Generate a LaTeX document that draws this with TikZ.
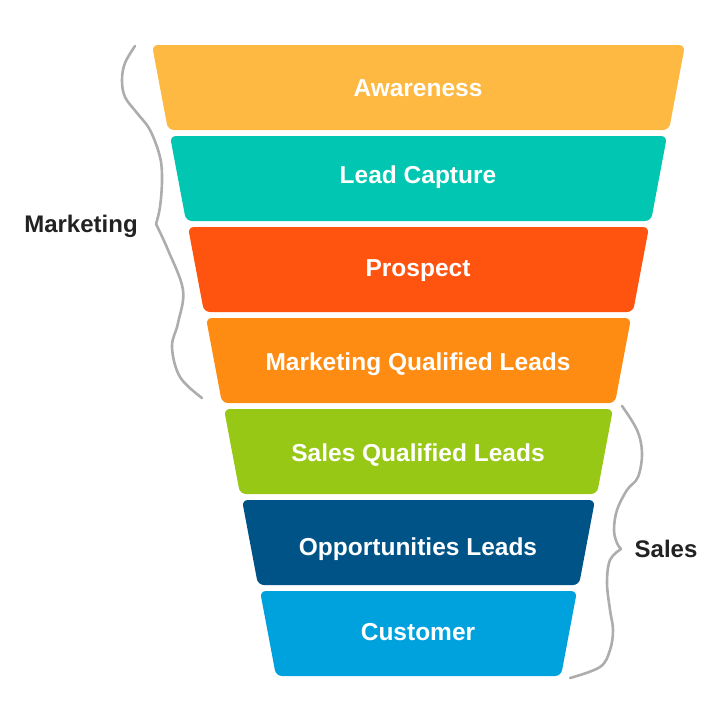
\documentclass[tikz,border=0pt]{standalone}
\usepackage{fontspec}
\setmainfont{Liberation Sans}

\definecolor{awarecol}{HTML}{FDB942}
\definecolor{leadcol}{HTML}{00C6B2}
\definecolor{prospcol}{HTML}{FF5310}
\definecolor{mqlcol}{HTML}{FF8C12}
\definecolor{sqlcol}{HTML}{96C815}
\definecolor{oppcol}{HTML}{005387}
\definecolor{custcol}{HTML}{00A2DD}
\definecolor{bracecol}{HTML}{ADADAD}
\definecolor{labelcol}{HTML}{222222}

\tikzset{
  bandtext/.style={text=white, anchor=base, font=\bfseries\fontsize{24.5}{28}\selectfont},
  sidelabel/.style={text=labelcol, anchor=base, font=\bfseries\fontsize{24}{28}\selectfont},
  bracecurve/.style={bracecol, line width=2.6pt, line cap=round}
}

\begin{document}
\begin{tikzpicture}[x=1pt, y=-1pt]
    \useasboundingbox (0,0) rectangle (720,720);

    % Funnel bands, one per stage
    \foreach \col/\ty/\txt [count=\i from 0] in {awarecol/88/Awareness, leadcol/175/Lead Capture,
        prospcol/268/Prospect, mqlcol/362/Marketing Qualified Leads, sqlcol/453/Sales Qualified Leads,
        oppcol/547/Opportunities Leads, custcol/632/Customer}{
        \fill[\col, rounded corners=6pt] ({152+18*\i},{45+91*\i}) -- ({685-18*\i},{45+91*\i})
            -- ({669-18*\i},{130+91*\i}) -- ({168+18*\i},{130+91*\i}) -- cycle;
        \node[bandtext] (stage\i) at (418,{\ty+8.7}) {\txt};
    }

    % Marketing brace
    \draw[bracecurve] plot[smooth, tension=0.6] coordinates {(135,46) (125,63) (122,80) (125,97)
        (137,113) (150,130) (160,157) (162,180) (160,207) (156,224)};
    \draw[bracecurve] plot[smooth, tension=0.6] coordinates {(156,224) (168,250) (183,290)
        (178,323) (172,347) (180,377) (202,398)};
    \node[sidelabel] (marketing) at (81,232) {Marketing};

    % Sales brace
    \draw[bracecurve] plot[smooth, tension=0.6] coordinates {(622,406) (637,430) (642,453)
        (638,477) (627,490) (617,510) (614,530) (617,543) (621,549)};
    \draw[bracecurve] plot[smooth, tension=0.6] coordinates {(621,549) (610,560) (607,583)
        (610,610) (613,630) (610,650) (600,667) (570,678)};
    \node[sidelabel] (sales) at (666,557) {Sales};
\end{tikzpicture}
\end{document}
